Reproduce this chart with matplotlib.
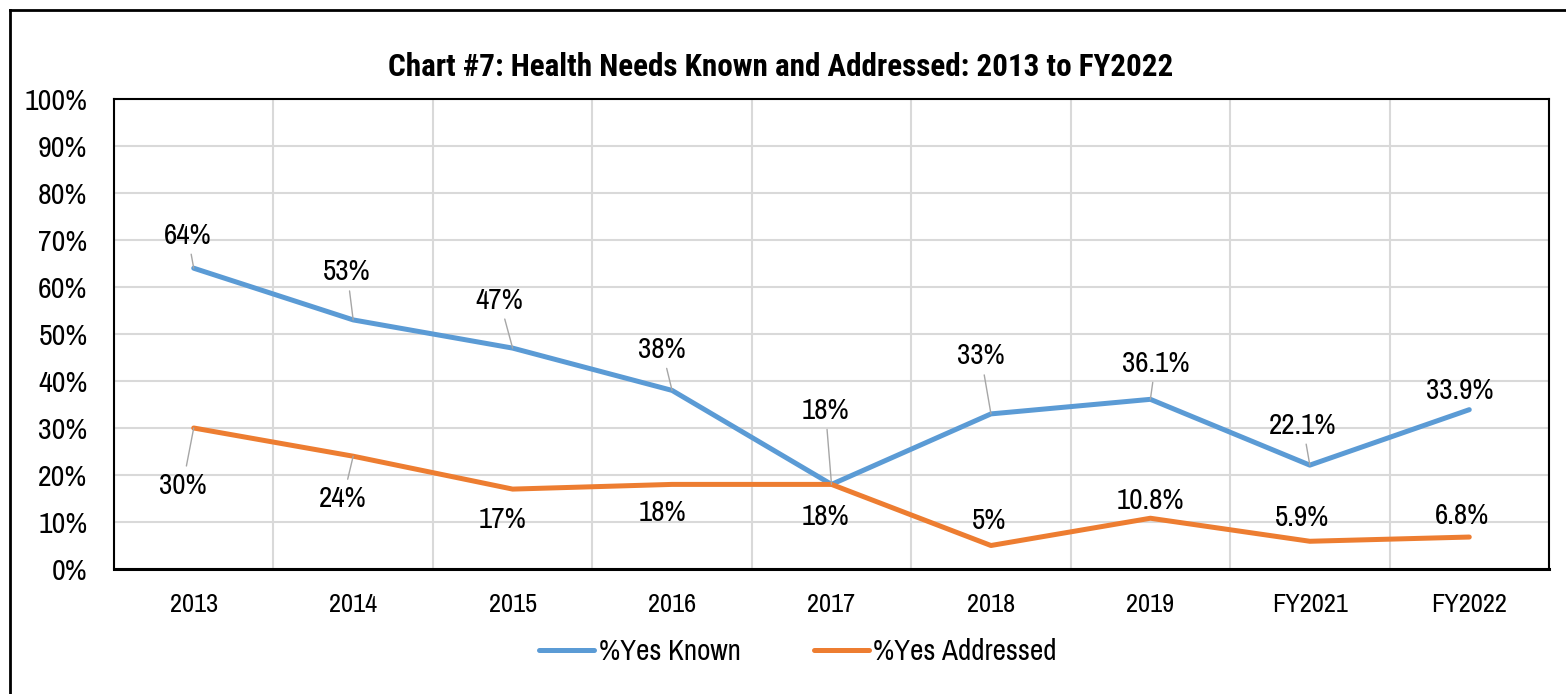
import matplotlib
matplotlib.use("Agg")
import matplotlib.pyplot as plt
from matplotlib.lines import Line2D
import numpy as np

plt.rcParams['font.family'] = ['Archivo Narrow', 'Liberation Sans', 'DejaVu Sans']

categories = ["2013", "2014", "2015", "2016", "2017", "2018", "2019", "FY2021", "FY2022"]
yes_known = [64, 53, 47, 38, 18, 33, 36.1, 22.1, 33.9]
yes_addressed = [30, 24, 17, 18, 18, 5, 10.8, 5.9, 6.8]
known_labels = ["64%", "53%", "47%", "38%", "18%", "33%", "36.1%", "22.1%", "33.9%"]
addressed_labels = ["30%", "24%", "17%", "18%", "18%", "5%", "10.8%", "5.9%", "6.8%"]

# label offsets in pixels (dx, dy up), and whether a leader line is drawn
known_off = [(-6, 33), (-6, 48), (-13, 48), (-10, 41), (-6, 74), (-10, 58), (5, 36), (-7, 40), (-10, 19)]
known_lead = [True, True, True, True, True, True, True, True, False]
addr_off = [(-11, -57), (-10, -42), (-10, -30), (-10, -28), (-6, -32), (-2, 25), (0, 18), (-8, 24), (-7, 22)]
addr_lead = [True, True, False, False, False, False, False, False, False]

blue = "#5B9BD5"
orange = "#ED7D31"

fig = plt.figure(figsize=(15.66, 6.94), dpi=100)
ax = fig.add_axes([114 / 1566, 125 / 694, 1435 / 1566, 470 / 694])

x = np.arange(len(categories))
ax.plot(x, yes_known, color=blue, lw=3.6, solid_capstyle='round', solid_joinstyle='round',
        label="%Yes Known", zorder=3)
ax.plot(x, yes_addressed, color=orange, lw=3.6, solid_capstyle='round', solid_joinstyle='round',
        label="%Yes Addressed", zorder=3)

def put_labels(vals, labels, offs, leads):
    for i, (v, t, (dx, dy), lead) in enumerate(zip(vals, labels, offs, leads)):
        props = dict(arrowstyle='-', color='#A6A6A6', lw=1.0, shrinkA=2, shrinkB=0) if lead else None
        ax.annotate(t, xy=(i, v), xytext=(dx, dy), textcoords='offset pixels',
                    ha='center', va='center', fontsize=21, color='black',
                    arrowprops=props, zorder=4)

put_labels(yes_known, known_labels, known_off, known_lead)
put_labels(yes_addressed, addressed_labels, addr_off, addr_lead)

ax.set_xlim(-0.5, len(categories) - 0.5)
ax.set_ylim(0, 100)
ax.set_yticks(np.arange(0, 101, 10))
ax.set_yticklabels([f"{v}%" for v in range(0, 101, 10)], fontsize=21.5)
ax.set_xticks(x)
ax.set_xticklabels(categories, fontsize=19)
ax.set_xticks(np.arange(-0.5, len(categories), 1), minor=True)
ax.tick_params(axis='both', which='both', length=0)
ax.tick_params(axis='y', pad=19)
ax.tick_params(axis='x', pad=17)

ax.grid(True, axis='y', color='#D9D9D9', lw=1.5, zorder=0)
ax.grid(True, axis='x', which='minor', color='#D9D9D9', lw=1.5, zorder=0)
ax.grid(False, axis='x', which='major')
ax.set_axisbelow(True)
for side in ['left', 'top', 'right']:
    ax.spines[side].set_color('black')
    ax.spines[side].set_linewidth(1.5)
ax.spines['bottom'].set_color('black')
ax.spines['bottom'].set_linewidth(2.2)

fig.text(781 / 1566, 1 - 67 / 694, "Chart #7: Health Needs Known and Addressed: 2013 to FY2022",
         ha='center', va='center', fontsize=22.4, fontweight='bold',
         family=['Roboto Condensed', 'Liberation Sans', 'DejaVu Sans'])

fig.legend(loc='center', bbox_to_anchor=(798 / 1566, 1 - 652 / 694), ncol=2, frameon=False,
           fontsize=21, handlelength=1.9, handletextpad=0.15, columnspacing=2.5)

# outer chart border (top and left only visible)
fig.add_artist(Line2D([10 / 1566, 1], [1 - 10 / 694, 1 - 10 / 694], color='black', lw=2))
fig.add_artist(Line2D([10 / 1566, 10 / 1566], [0, 1 - 10 / 694], color='black', lw=2))

fig.savefig("out.png", dpi=100)
